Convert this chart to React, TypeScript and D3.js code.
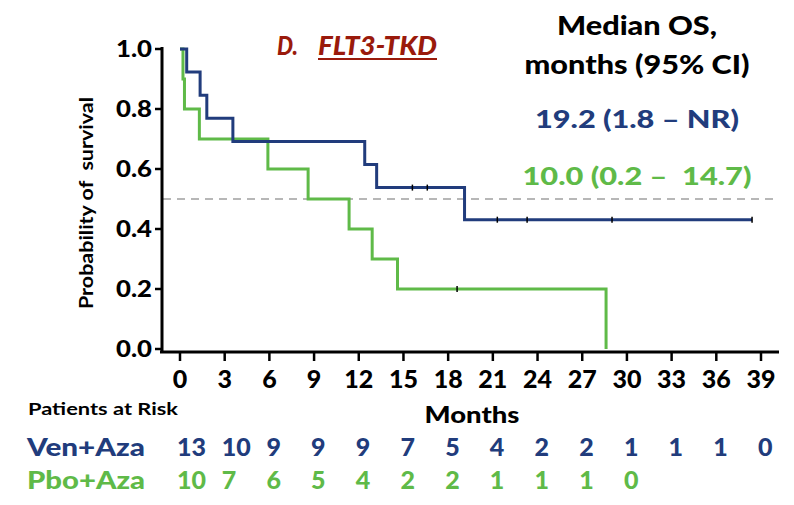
import React from 'react';
import * as d3 from 'd3';

// Kaplan-Meier steps (months, survival after the drop)
const venDropT = [0.45, 1.35, 1.8, 3.55, 12.4, 13.2, 19.1];
const venSurv = [0.923, 0.846, 0.769, 0.692, 0.615, 0.538, 0.431];
const venEnd = 38.4;
const venCensorT = [15.6, 16.6, 21.3, 23.3, 29.0, 38.4];

const pboDropT = [0.2, 0.3, 1.3, 5.9, 8.6, 11.35, 12.9, 14.6, 28.6];
const pboSurv = [0.9, 0.8, 0.7, 0.6, 0.5, 0.4, 0.3, 0.2, 0.0];
const pboEnd = 28.6;
const pboCensorT = [18.6];

const xTicks = [0, 3, 6, 9, 12, 15, 18, 21, 24, 27, 30, 33, 36, 39];
const yTicks = [0, 0.2, 0.4, 0.6, 0.8, 1.0];
const venAtRisk = [13, 10, 9, 9, 9, 7, 5, 4, 2, 2, 1, 1, 1, 0];
const pboAtRisk = [10, 7, 6, 5, 4, 2, 2, 1, 1, 1, 0];

const NAVY = '#213c7c';
const GREEN = '#5fba48';
const RED = '#9a1a0c';
const FONT = 'Lato, "Open Sans", sans-serif';
const W = 900;

const x = d3.scaleLinear().domain([0, 39]).range([180, 761]);
const y = d3.scaleLinear().domain([0, 1]).range([349, 49]);

// build step points: start at 1.0, drop at each time
const stepPts = (dropT: number[], surv: number[], end: number) => {
  const pts: [number, number][] = [[0, 1]];
  dropT.forEach((t, i) => pts.push([t, surv[i]]));
  pts.push([end, surv[surv.length - 1]]);
  return pts;
};

// survival value at time t (for placing censor ticks)
const survAt = (dropT: number[], surv: number[], t: number) => {
  let s = 1;
  dropT.forEach((d, i) => { if (t >= d) s = surv[i]; });
  return s;
};

const line = d3.line<[number, number]>()
  .x(d => x(d[0]))
  .y(d => y(d[1]))
  .curve(d3.curveStepAfter);

export default function App() {
  const venPts = stepPts(venDropT, venSurv, venEnd);
  const pboPts = stepPts(pboDropT, pboSurv, pboEnd);
  const stretch = { lengthAdjust: 'spacingAndGlyphs' as const };

  return (
    <svg width={794} height={505} style={{ position: 'absolute', left: 0, top: 0, background: '#fff' }}>
      {/* title */}
      <g fontFamily={FONT} fontWeight={W} fontStyle="italic" fontSize={27} fill={RED}>
        <text x={277} y={55} textLength={21} {...stretch}>D.</text>
        <text x={318} y={55} textLength={119} {...stretch}>FLT3-TKD</text>
        <line x1={318} x2={437} y1={59} y2={59} stroke={RED} strokeWidth={2} />
      </g>

      {/* median OS annotation */}
      <g fontFamily={FONT} fontWeight={W} textAnchor="middle">
        <text x={637} y={35} fontSize={27} fill="#000" textLength={160} {...stretch}>Median OS,</text>
        <text x={637} y={74} fontSize={27} fill="#000" textLength={225} {...stretch}>months (95% CI)</text>
        <text x={637} y={128} fontSize={25} fill={NAVY} textLength={204} {...stretch}>19.2 (1.8 – NR)</text>
        <text x={637} y={185} fontSize={25} fill={GREEN} textLength={229} {...stretch}
          style={{ whiteSpace: 'pre' }}>10.0 (0.2 –  14.7)</text>
      </g>

      {/* median reference line */}
      <line x1={163} x2={778} y1={y(0.5)} y2={y(0.5)} stroke="#a0a0a0" strokeWidth={1.5} strokeDasharray="8,6" />

      {/* curves */}
      <path d={line(pboPts) || ''} fill="none" stroke={GREEN} strokeWidth={3} />
      <path d={line(venPts) || ''} fill="none" stroke={NAVY} strokeWidth={3} />

      {/* censor marks */}
      {venCensorT.map((t, i) => {
        const cx = x(t);
        const cy = y(survAt(venDropT, venSurv, t));
        return <line key={'v' + i} x1={cx} x2={cx} y1={cy - 3} y2={cy + 3} stroke="#000" strokeWidth={1.5} />;
      })}
      {pboCensorT.map((t, i) => {
        const cx = x(t);
        const cy = y(survAt(pboDropT, pboSurv, t));
        return <line key={'p' + i} x1={cx} x2={cx} y1={cy - 3} y2={cy + 3} stroke="#000" strokeWidth={1.5} />;
      })}

      {/* y axis */}
      <line x1={162} x2={162} y1={47} y2={353} stroke="#000" strokeWidth={3} />
      {yTicks.map(v => (
        <g key={v}>
          <line x1={155} x2={162} y1={y(v)} y2={y(v)} stroke="#000" strokeWidth={2.5} />
          <text x={152} y={y(v) + 8} textAnchor="end" fontFamily={FONT} fontWeight={W} fontSize={23}
            fill="#000" textLength={36} {...stretch}>
            {v.toFixed(1)}
          </text>
        </g>
      ))}
      <text transform={`translate(93,203) rotate(-90)`} textAnchor="middle" fontFamily={FONT} fontWeight="bold"
        fontSize={18} fill="#000" textLength={212} {...stretch} style={{ whiteSpace: 'pre' }}>
        Probability of  survival
      </text>

      {/* x axis */}
      <line x1={160} x2={779} y1={352} y2={352} stroke="#000" strokeWidth={3} />
      {xTicks.map(t => (
        <g key={t}>
          <line x1={x(t)} x2={x(t)} y1={352} y2={361} stroke="#000" strokeWidth={2.5} />
          <text x={x(t)} y={388} textAnchor="middle" fontFamily={FONT} fontWeight={W} fontSize={25} fill="#000">
            {t}
          </text>
        </g>
      ))}
      <text x={472} y={423} textAnchor="middle" fontFamily={FONT} fontWeight={W} fontSize={23} fill="#000"
        textLength={95} {...stretch}>
        Months
      </text>

      {/* risk table */}
      <text x={28} y={415} fontFamily={FONT} fontWeight="bold" fontSize={17} fill="#000" textLength={150}
        {...stretch}>Patients at Risk</text>
      <text x={27} y={456} fontFamily={FONT} fontWeight={W} fontSize={24} fill={NAVY} textLength={118}
        {...stretch}>Ven+Aza</text>
      <text x={27} y={489} fontFamily={FONT} fontWeight={W} fontSize={24} fill={GREEN} textLength={118}
        {...stretch}>Pbo+Aza</text>
      {venAtRisk.map((n, i) => (
        <text key={'vr' + i} x={x(xTicks[i]) - 3} y={456} fontFamily={FONT}
          fontWeight={W} fontSize={25} fill={NAVY}>{n}</text>
      ))}
      {pboAtRisk.map((n, i) => (
        <text key={'pr' + i} x={x(xTicks[i]) - 3} y={489} fontFamily={FONT}
          fontWeight={W} fontSize={25} fill={GREEN}>{n}</text>
      ))}
    </svg>
  );
}
